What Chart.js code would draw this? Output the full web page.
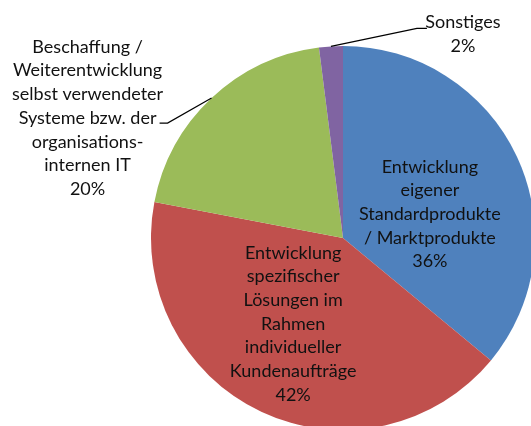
<!DOCTYPE html>
<html>
<head>
<meta charset="utf-8">
<script src="https://cdn.jsdelivr.net/npm/chart.js"></script>
<style>
  html, body { margin: 0; padding: 0; background: #fff; }
  #pie { display: block; }
</style>
</head>
<body>
<canvas id="pie" width="531" height="426"></canvas>
<script>
// categories, one line per entry as in the original wrapping
const categories = [
    ["Entwicklung", "eigener", "Standardprodukte", "/ Marktprodukte"],
    ["Entwicklung", "spezifischer", "Lösungen im", "Rahmen", "individueller", "Kundenaufträge"],
    ["Beschaffung /", "Weiterentwicklung", "selbst verwendeter", "Systeme bzw. der", "organisations-", "internen IT"],
    ["Sonstiges"]
];
const shares = [36, 42, 20, 2];
const sliceColors = ["#4F81BD", "#C0504D", "#9BBB59", "#8064A2"];

// where each label goes, relative to its slice
const placement = [
    { inside: true, dist: 0.5, dx: 0, dy: 17 },
    { inside: true, dist: 0.5, dx: -9, dy: -1 },
    { inside: false, elbowX: -44, elbowY: 25, stub: -8, textX: -124, textY: 20 },
    { inside: false, elbowX: 86, elbowY: -18, stub: 10, textX: 132, textY: -12 }
];

const FONT = "18px Lato";
const LINE_H = 23.7;

const pieLabels = {
    id: "pieLabels",
    afterDatasetsDraw(chart) {
        const ctx = chart.ctx;
        const meta = chart.getDatasetMeta(0);
        const total = shares.reduce((a, b) => a + b, 0);

        ctx.save();
        ctx.font = FONT;
        ctx.fillStyle = "#111";
        ctx.textAlign = "center";
        ctx.textBaseline = "middle";

        meta.data.forEach((arc, i) => {
            const p = placement[i];
            const mid = (arc.startAngle + arc.endAngle) / 2;
            const lines = categories[i].concat(Math.round(shares[i] / total * 100) + "%");
            let cx, cy;

            if (p.inside) {
                const d = arc.outerRadius * p.dist;
                cx = arc.x + Math.cos(mid) * d + p.dx;
                cy = arc.y + Math.sin(mid) * d + p.dy;
            } else {
                const ex = arc.x + Math.cos(mid) * arc.outerRadius;
                const ey = arc.y + Math.sin(mid) * arc.outerRadius;
                ctx.beginPath();
                ctx.strokeStyle = "#000";
                ctx.lineWidth = 1.2;
                ctx.moveTo(ex, ey);
                ctx.lineTo(ex + p.elbowX, ey + p.elbowY);
                ctx.lineTo(ex + p.elbowX + p.stub, ey + p.elbowY);
                ctx.stroke();
                cx = ex + p.textX;
                cy = ey + p.textY;
            }

            lines.forEach((line, j) => {
                ctx.fillText(line, cx, cy + (j - (lines.length - 1) / 2) * LINE_H);
            });
        });
        ctx.restore();
    }
};

new Chart(document.getElementById("pie"), {
    type: "pie",
    data: {
        labels: categories,
        datasets: [{
            data: shares,
            backgroundColor: sliceColors,
            borderWidth: 0,
            hoverOffset: 0,
            radius: 192
        }]
    },
    options: {
        responsive: false,
        devicePixelRatio: 1,
        animation: false,
        layout: {
            padding: { left: 155, top: 50, right: 0, bottom: 0 }
        },
        plugins: {
            legend: { display: false },
            tooltip: { enabled: false }
        }
    },
    plugins: [pieLabels]
});
</script>
</body>
</html>
